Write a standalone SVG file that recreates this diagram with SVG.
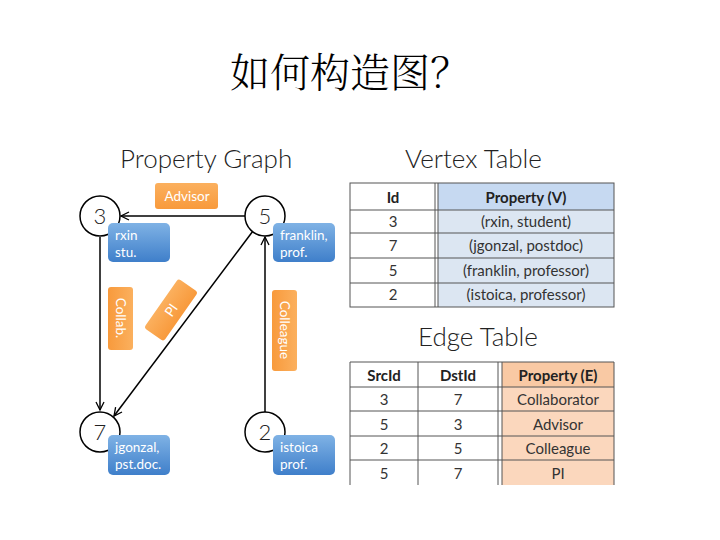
<svg xmlns="http://www.w3.org/2000/svg" width="720" height="540" viewBox="0 0 720 540">
<defs>
<linearGradient id="blue" x1="0" y1="0" x2="0" y2="1"><stop offset="0" stop-color="#7fb2e5"/><stop offset="1" stop-color="#3f7fca"/></linearGradient>
<linearGradient id="orange" x1="0" y1="0" x2="0" y2="1"><stop offset="0" stop-color="#fbb05e"/><stop offset="1" stop-color="#f89a3c"/></linearGradient>
<linearGradient id="orangeH" x1="0" y1="0" x2="1" y2="0"><stop offset="0" stop-color="#f89a3c"/><stop offset="1" stop-color="#fbb05e"/></linearGradient>
<marker id="arr" markerWidth="10" markerHeight="10" refX="9" refY="5" orient="auto" markerUnits="userSpaceOnUse"><polyline points="1,1 9,5 1,9" fill="none" stroke="#000" stroke-width="1.3"/></marker>
<style>
.t{font-family:Lato,"Open Sans","DejaVu Sans",sans-serif;fill:#222}
.h{font-size:26px;fill:#222;font-weight:300}
.num{font-size:22px;text-anchor:middle;font-weight:300}
.wt{font-family:Lato,"Open Sans","DejaVu Sans",sans-serif;fill:#fff;font-size:13.5px}
.cell{font-size:15px;text-anchor:middle;fill:#333}
.hd{font-size:15px;text-anchor:middle;font-weight:bold;fill:#222}
.circ{fill:#fff;stroke:#000;stroke-width:1.5}
.edge{stroke:#000;stroke-width:1.5;fill:none;marker-end:url(#arr)}
.grid{stroke:#555;stroke-width:1;fill:none}
</style>
</defs>
<rect width="720" height="540" fill="#fff"/>
<text x="350" y="87" text-anchor="middle" font-family="'Noto Serif CJK SC','Noto Sans CJK SC',serif" font-size="40" font-weight="300" fill="#000">如何构造图？</text>

<text class="t h" x="120" y="168">Property Graph</text>
<text class="t h" x="405" y="168">Vertex Table</text>
<text class="t h" x="418" y="346">Edge Table</text>

<g id="edge-labels">
<rect x="155" y="183" width="63" height="26" rx="3" fill="url(#orange)"/>
<text class="wt" x="187" y="201" text-anchor="middle">Advisor</text>
<rect x="108" y="287" width="25" height="63" rx="3" fill="url(#orangeH)"/>
<text class="wt" transform="translate(116,318) rotate(90)" text-anchor="middle">Collab.</text>
<rect x="272" y="290" width="25" height="81" rx="3" fill="url(#orangeH)"/>
<text class="wt" transform="translate(280,330) rotate(90)" text-anchor="middle">Colleague</text>
<g transform="translate(171,310) rotate(-55)">
<rect x="-30" y="-12" width="60" height="24" rx="3" fill="url(#orange)"/>
<text class="wt" x="0" y="5" text-anchor="middle">PI</text>
</g>
</g>

<g id="connectors">
<line class="edge" x1="100" y1="237" x2="100" y2="410"/>
<line class="edge" x1="245" y1="216" x2="121" y2="216"/>
<line class="edge" x1="265" y1="413" x2="265" y2="237"/>
<line class="edge" x1="253" y1="231" x2="114" y2="416"/>
</g>

<g id="node-3">
<circle class="circ" cx="100" cy="216" r="20"/>
<text class="t num" x="100" y="224">3</text>
<rect x="108" y="223" width="62" height="39" rx="5" fill="url(#blue)"/>
<text class="wt" x="115" y="240">rxin</text>
<text class="wt" x="115" y="257">stu.</text>
</g>
<g id="node-5">
<circle class="circ" cx="265" cy="216" r="20"/>
<text class="t num" x="265" y="224">5</text>
<rect x="273" y="223" width="62" height="39" rx="5" fill="url(#blue)"/>
<text class="wt" x="280" y="240">franklin,</text>
<text class="wt" x="280" y="257">prof.</text>
</g>
<g id="node-7">
<circle class="circ" cx="100" cy="432" r="20"/>
<text class="t num" x="100" y="440">7</text>
<rect x="108" y="435" width="62" height="40" rx="5" fill="url(#blue)"/>
<text class="wt" x="115" y="452">jgonzal,</text>
<text class="wt" x="115" y="469">pst.doc.</text>
</g>
<g id="node-2">
<circle class="circ" cx="265" cy="432" r="20"/>
<text class="t num" x="265" y="440">2</text>
<rect x="273" y="435" width="62" height="40" rx="5" fill="url(#blue)"/>
<text class="wt" x="280" y="452">istoica</text>
<text class="wt" x="280" y="469">prof.</text>
</g>

<g id="vertex-table">
<rect x="438" y="183" width="176" height="27" fill="#c6d9f1"/>
<rect x="438" y="210" width="176" height="97" fill="#dce6f2"/>
<rect x="350" y="183" width="264" height="124" class="grid"/>
<line class="grid" x1="435" y1="183" x2="435" y2="307"/>
<line class="grid" x1="438" y1="183" x2="438" y2="307"/>
<line class="grid" x1="350" y1="210" x2="614" y2="210"/>
<line class="grid" x1="350" y1="233" x2="614" y2="233"/>
<line class="grid" x1="350" y1="258" x2="614" y2="258"/>
<line class="grid" x1="350" y1="283" x2="614" y2="283"/>
<text class="t hd" x="393" y="203">Id</text>
<text class="t hd" x="526" y="203">Property (V)</text>
<text class="t cell" x="393" y="227">3</text>
<text class="t cell" x="526" y="227">(rxin, student)</text>
<text class="t cell" x="393" y="251">7</text>
<text class="t cell" x="526" y="251">(jgonzal, postdoc)</text>
<text class="t cell" x="393" y="276">5</text>
<text class="t cell" x="526" y="276">(franklin, professor)</text>
<text class="t cell" x="393" y="300">2</text>
<text class="t cell" x="526" y="300">(istoica, professor)</text>
</g>

<g id="edge-table">
<rect x="502" y="362" width="112" height="25" fill="#f9c9a4"/>
<rect x="502" y="387" width="112" height="98" fill="#fbd7bd"/>
<polyline class="grid" points="350,485 350,362 614,362 614,485"/>
<line class="grid" x1="418" y1="362" x2="418" y2="485"/>
<line class="grid" x1="498" y1="362" x2="498" y2="485"/>
<line class="grid" x1="502" y1="362" x2="502" y2="485"/>
<line class="grid" x1="350" y1="387" x2="614" y2="387"/>
<line class="grid" x1="350" y1="411" x2="614" y2="411"/>
<line class="grid" x1="350" y1="436" x2="614" y2="436"/>
<line class="grid" x1="350" y1="460" x2="614" y2="460"/>
<text class="t hd" x="384" y="381">SrcId</text>
<text class="t hd" x="458" y="381">DstId</text>
<text class="t hd" x="558" y="381">Property (E)</text>
<text class="t cell" x="384" y="405">3</text>
<text class="t cell" x="458" y="405">7</text>
<text class="t cell" x="558" y="405">Collaborator</text>
<text class="t cell" x="384" y="430">5</text>
<text class="t cell" x="458" y="430">3</text>
<text class="t cell" x="558" y="430">Advisor</text>
<text class="t cell" x="384" y="454">2</text>
<text class="t cell" x="458" y="454">5</text>
<text class="t cell" x="558" y="454">Colleague</text>
<text class="t cell" x="384" y="479">5</text>
<text class="t cell" x="458" y="479">7</text>
<text class="t cell" x="558" y="479">PI</text>
</g>
</svg>
